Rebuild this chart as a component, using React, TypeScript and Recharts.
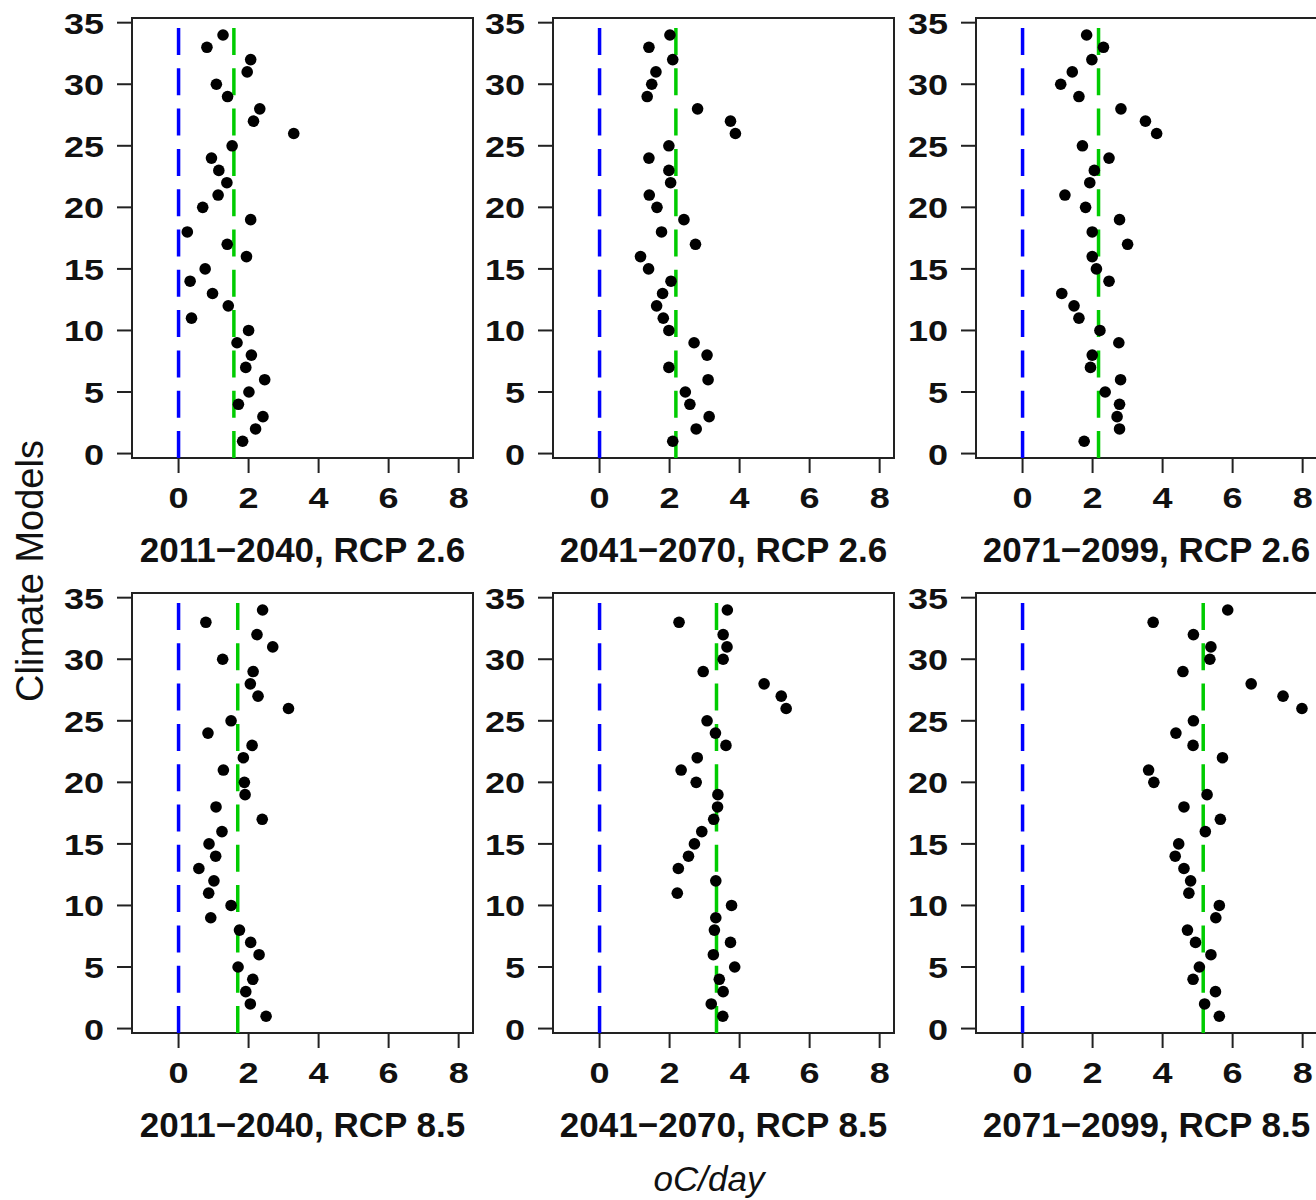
import { ScatterChart, Scatter, XAxis, YAxis, ReferenceLine, ReferenceArea } from 'recharts';

// climate model index (1..34), bottom to top
const models = [
  1, 2, 3, 4, 5, 6, 7, 8, 9, 10, 11, 12, 13, 14, 15, 16, 17,
  18, 19, 20, 21, 22, 23, 24, 25, 26, 27, 28, 29, 30, 31, 32, 33, 34,
];

const xTicks = [0, 2, 4, 6, 8];
const yTicks = [0, 5, 10, 15, 20, 25, 30, 35];

const titles = [
  '2011\u22122040, RCP 2.6',
  '2041\u22122070, RCP 2.6',
  '2071\u22122099, RCP 2.6',
  '2011\u22122040, RCP 8.5',
  '2041\u22122070, RCP 8.5',
  '2071\u22122099, RCP 8.5',
];

// oC/day change per model, model 1 first
const rcp26Early = [
  1.83, 2.2, 2.41, 1.71, 2.01, 2.46, 1.92, 2.08, 1.67, 2.0, 0.37, 1.42, 0.97, 0.33, 0.76, 1.94, 1.39,
  0.25, 2.06, 0.69, 1.13, 1.38, 1.15, 0.94, 1.53, 3.29, 2.14, 2.32, 1.4, 1.08, 1.96, 2.06, 0.81, 1.27,
];
const rcp26Mid = [
  2.09, 2.76, 3.13, 2.58, 2.45, 3.1, 1.98, 3.07, 2.7, 1.98, 1.82, 1.63, 1.8, 2.04, 1.4, 1.17, 2.74,
  1.77, 2.41, 1.64, 1.42, 2.03, 1.98, 1.41, 1.98, 3.88, 3.74, 2.8, 1.36, 1.49, 1.61, 2.09, 1.41, 2.01,
];
const rcp26Late = [
  1.76, 2.77, 2.7, 2.77, 2.36, 2.8, 1.94, 1.99, 2.75, 2.21, 1.61, 1.47, 1.12, 2.47, 2.11, 1.99, 3.0,
  1.99, 2.77, 1.8, 1.21, 1.92, 2.05, 2.47, 1.71, 3.83, 3.51, 2.81, 1.61, 1.09, 1.42, 1.98, 2.31, 1.83,
];
const rcp85Early = [
  2.5, 2.05, 1.92, 2.12, 1.7, 2.3, 2.06, 1.74, 0.92, 1.5, 0.86, 1.01, 0.58, 1.06, 0.87, 1.24, 2.39,
  1.07, 1.9, 1.88, 1.28, 1.85, 2.1, 0.84, 1.5, 3.14, 2.27, 2.05, 2.13, 1.26, 2.69, 2.24, 0.78, 2.4,
];
const rcp85Mid = [
  3.52, 3.19, 3.53, 3.42, 3.86, 3.25, 3.74, 3.28, 3.32, 3.77, 2.22, 3.32, 2.25, 2.54, 2.71, 2.92, 3.26,
  3.37, 3.38, 2.76, 2.33, 2.79, 3.61, 3.31, 3.07, 5.33, 5.19, 4.7, 2.96, 3.53, 3.64, 3.53, 2.27, 3.65,
];
const rcp85Late = [
  5.62, 5.2, 5.51, 4.87, 5.05, 5.38, 4.94, 4.71, 5.52, 5.62, 4.75, 4.8, 4.61, 4.36, 4.46, 5.22, 5.65,
  4.61, 5.27, 3.75, 3.6, 5.71, 4.87, 4.38, 4.88, 7.98, 7.44, 6.53, 4.58, 5.35, 5.38, 4.88, 3.73, 5.86,
];

// green dashed line (ensemble mean)
const means = [1.58, 2.18, 2.17, 1.69, 3.34, 5.16];

const series = [rcp26Early, rcp26Mid, rcp26Late, rcp85Early, rcp85Mid, rcp85Late];

const FONT = '"Liberation Sans", Arial, Helvetica, sans-serif';
const X_DOMAIN: [number, number] = [-1.33, 8.41];
const Y_DOMAIN: [number, number] = [-0.36, 35.38];
const AXIS_W = 130;
const PLOT_W = 341;
const PLOT_H = 440;
const TOP_M = 18;
const X_AXIS_H = 115;

const plotLefts = [131.5, 553, 975.5];
const rowTops = [0, 575];

function XTick(props: any) {
  const { x, y, payload } = props;
  return (
    <g transform={`translate(${x},${y + 34.5})`}>
      <text
        textAnchor='middle'
        transform='scale(1.2,1)'
        fontSize={30}
        fontWeight='bold'
        fontFamily={FONT}
        fill='#111'
      >
        {payload.value}
      </text>
    </g>
  );
}

function YTick(props: any) {
  const { x, y, payload } = props;
  return (
    <g transform={`translate(${x},${y + 11})`}>
      <text
        textAnchor='end'
        transform='scale(1.2,1)'
        fontSize={30}
        fontWeight='bold'
        fontFamily={FONT}
        fill='#111'
      >
        {payload.value}
      </text>
    </g>
  );
}

function Dot(props: any) {
  return <circle cx={props.cx} cy={props.cy} r={5.8} fill='#000' />;
}

interface PanelProps {
  values: number[];
  mean: number;
  title: string;
  left: number;
  top: number;
}

function Panel({ values, mean, title, left, top }: PanelProps) {
  const data = values.map((v, i) => ({ x: v, y: models[i] }));
  return (
    <div style={{ position: 'absolute', left: left - AXIS_W, top }}>
      <ScatterChart
        width={AXIS_W + PLOT_W + 4}
        height={TOP_M + PLOT_H + X_AXIS_H}
        margin={{ top: TOP_M, right: 4, bottom: 0, left: 0 }}
      >
        <XAxis
          type='number'
          dataKey='x'
          domain={X_DOMAIN}
          ticks={xTicks}
          interval={0}
          allowDataOverflow
          height={X_AXIS_H}
          axisLine={false}
          tickLine={{ stroke: '#222', strokeWidth: 2 }}
          tickSize={15}
          tickMargin={0}
          tick={<XTick />}
          label={{
            value: title,
            position: 'insideBottom',
            offset: 11,
            fontSize: 35,
            fontWeight: 'bold',
            fontFamily: FONT,
            fill: '#111',
          }}
        />
        <YAxis
          type='number'
          dataKey='y'
          domain={Y_DOMAIN}
          ticks={yTicks}
          interval={0}
          allowDataOverflow
          width={AXIS_W}
          axisLine={false}
          tickLine={{ stroke: '#222', strokeWidth: 2 }}
          tickSize={15}
          tickMargin={13}
          tick={<YTick />}
        />
        <ReferenceArea
          x1={X_DOMAIN[0]}
          x2={X_DOMAIN[1]}
          y1={Y_DOMAIN[0]}
          y2={Y_DOMAIN[1]}
          fill='none'
          stroke='#222'
          strokeWidth={2}
          ifOverflow='visible'
        />
        <ReferenceLine
          segment={[
            { x: 0, y: Y_DOMAIN[0] },
            { x: 0, y: Y_DOMAIN[1] },
          ]}
          stroke='#0000ff'
          strokeWidth={3.5}
          strokeDasharray='27 13.3'
          ifOverflow='visible'
        />
        <ReferenceLine
          segment={[
            { x: mean, y: Y_DOMAIN[0] },
            { x: mean, y: Y_DOMAIN[1] },
          ]}
          stroke='#00cc00'
          strokeWidth={3.5}
          strokeDasharray='27 13.3'
          ifOverflow='visible'
        />
        <Scatter data={data} shape={<Dot />} isAnimationActive={false} />
      </ScatterChart>
    </div>
  );
}

export default function App() {
  return (
    <div
      style={{
        position: 'absolute',
        left: 0,
        top: 0,
        width: 1316,
        height: 1200,
        overflow: 'hidden',
        background: '#fff',
        fontFamily: FONT,
      }}
    >
      {series.map((values, i) => (
        <Panel
          key={titles[i]}
          values={values}
          mean={means[i]}
          title={titles[i]}
          left={plotLefts[i % 3]}
          top={rowTops[Math.floor(i / 3)]}
        />
      ))}
      <svg width={1316} height={1200} style={{ position: 'absolute', left: 0, top: 0, pointerEvents: 'none' }}>
        <text
          x={43}
          y={571}
          transform='rotate(-90 43 571)'
          textAnchor='middle'
          fontSize={38}
          fontFamily={FONT}
          fill='#111'
        >
          Climate Models
        </text>
        <text x={709} y={1191} textAnchor='middle' fontSize={35} fontStyle='italic' fontFamily={FONT} fill='#111'>
          oC/day
        </text>
      </svg>
    </div>
  );
}
